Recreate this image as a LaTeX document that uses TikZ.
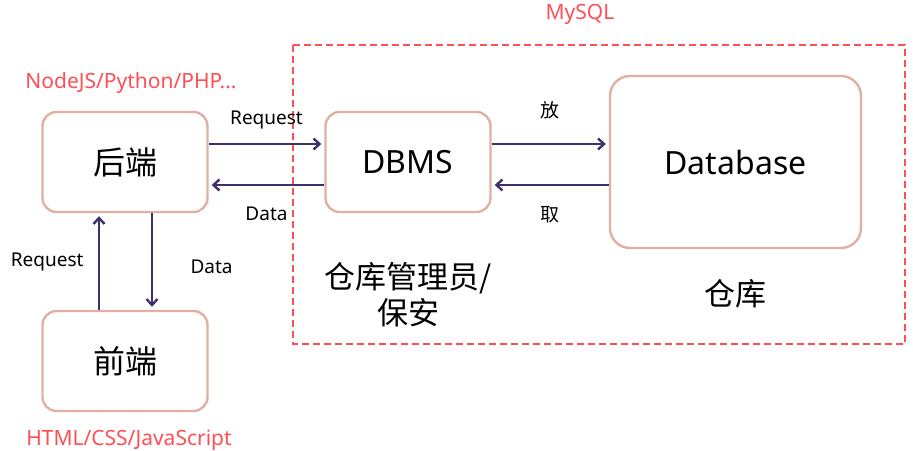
\documentclass[tikz,border=0pt]{standalone}
\usepackage{fontspec}
\setmainfont{Noto Sans}
\newfontfamily\cjk{Noto Sans CJK SC}
\usepackage{xcolor}
\usetikzlibrary{arrows.meta}
\definecolor{boxline}{HTML}{E2B0A2}
\definecolor{arrowc}{HTML}{3F2F6B}
\definecolor{redtext}{HTML}{FF4F55}

\begin{document}
\begin{tikzpicture}[x=1pt,y=-1pt,->,>={Straight Barb[length=6pt,width=11pt]},shorten >=3pt,
    main node/.style={draw=boxline,line width=2.4pt,rounded corners=14pt,font=\fontsize{32}{34}\selectfont},
    lbl/.style={font=\fontsize{19}{22}\selectfont},
    redlbl/.style={text=redtext,font=\fontsize{21}{24}\selectfont}]
    \useasboundingbox (0,0) rectangle (913,450);

            \node[main node, minimum width=165, minimum height=100] (1) at (125,162) {\raisebox{-4pt}{\cjk 后端}};
            \node[main node, minimum width=165, minimum height=100] (2) at (125,361) {\raisebox{-4pt}{\cjk 前端}};
            \node[main node, minimum width=165, minimum height=100] (3) at (408,162) {\raisebox{-6pt}{DBMS}};
            \node[main node, minimum width=251, minimum height=172, rounded corners=20pt] (4) at (735.5,162) {\raisebox{-6pt}{Database}};

            \draw[-, shorten >=0pt, redtext, line width=1.6pt, dash pattern=on 7pt off 4pt] (293,45) rectangle (905,344);

            \node[redlbl] (5) at (580,14) {MySQL};
            \node[redlbl] (6) at (131,83) {NodeJS/Python/PHP...};
            \node[redlbl] (7) at (129,440) {HTML/CSS/JavaScript};
            \node[align=center, font=\cjk\fontsize{31}{36}\selectfont] (8) at (408,295) {仓库管理员/\\保安};
            \node[font=\cjk\fontsize{31}{32}\selectfont] (9) at (735,294) {仓库};

            \path[every edge/.append style={arrowc, line width=2.4pt}, every node/.style={lbl, text=black}]
                ([yshift=18]1.east) edge node[above=10pt]{Request} ([yshift=18]3.west)
                ([yshift=-23]3.west) edge node[below=17pt]{Data} ([yshift=-23]1.east)
                ([yshift=18]3.east) edge node[above=20pt]{\cjk 放} ([yshift=18]4.west)
                ([yshift=-23]4.west) edge node[below=17pt]{\cjk 取} ([yshift=-23]3.east)
                ([xshift=-26]2.north) edge node[left=11pt]{Request} ([xshift=-26]1.south)
                ([xshift=27]1.south) edge node[right=34pt, pos=0.55]{Data} ([xshift=27]2.north)
            ;
        \end{tikzpicture}
\end{document}
